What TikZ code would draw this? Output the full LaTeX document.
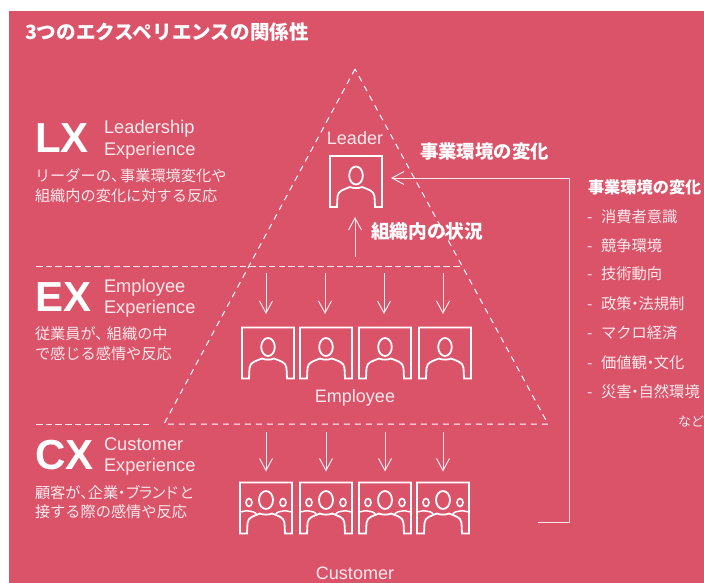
\documentclass[tikz,border=0pt]{standalone}
\usepackage{fontspec}
\setmainfont{Liberation Sans}
\newfontfamily\cjk{Noto Sans CJK JP}
\usetikzlibrary{arrows.meta}
\definecolor{bgred}{HTML}{DA5369}
\definecolor{softw}{HTML}{FBE9EC}
\newcommand{\fs}[1]{\fontsize{#1}{#1}\selectfont}
\newcommand{\nd}{\kern-.27em・\kern-.27em}
\newcommand{\cm}[1]{、\kern-#1em}
\tikzset{
  txt/.style={inner sep=0pt,outer sep=0pt,text=softw,anchor=base west},
  ctxt/.style={inner sep=0pt,outer sep=0pt,text=softw,anchor=base},
  big/.style={txt,text=white,font=\fs{42}\bfseries},
  sub/.style={txt,font=\fs{18.3}},
  desc/.style={txt,font=\cjk\fs{15.2}},
  lst/.style={txt,font=\cjk\fs{15.3}},
  hd/.style={txt,text=white,font=\cjk\bfseries\fs{18.4}},
  lvl/.style={ctxt,font=\fs{18}},
  dashline/.style={draw=softw,line width=1pt,dash pattern=on 6.5pt off 3.2pt},
  tridash/.style={draw=white,line width=1pt,dash pattern=on 6pt off 5pt},
  arr/.style={draw=softw,line width=1pt,-{Straight Barb[length=12pt,width=13pt]}},
  iconbox/.style={minimum width=52pt,minimum height=51pt,inner sep=0pt,outer sep=0pt},
  person/.pic={
    \draw[white,line width=1.8pt,line join=miter]
      (-26,-25.5) -- (26,-25.5) -- (26,25.5) -- (19,25.5) -- (18.5,15)
      .. controls (18,9) and (12,8) .. (6,5.5) .. controls (3,7) and (-3,7) .. (-6,5.5)
      .. controls (-12,8) and (-18,9) .. (-18.5,15) -- (-19,25.5) -- (-26,25.5) -- cycle;
    \draw[white,line width=1.8pt] (0,-6) ellipse [x radius=6.8, y radius=9];
  },
  crowd/.pic={
    \draw[white,line width=1.8pt,line join=miter]
      (-26,-25.5) -- (26,-25.5) -- (26,25.5) -- (19,25.5) -- (18.5,15)
      .. controls (18,9) and (12,8) .. (6,5.5) .. controls (3,7) and (-3,7) .. (-6,5.5)
      .. controls (-12,8) and (-18,9) .. (-18.5,15) -- (-19,25.5) -- (-26,25.5) -- cycle;
    \draw[white,line width=1.8pt] (0,-8) ellipse [x radius=7, y radius=9];
    \draw[white,line width=1.6pt] (-17,-5.5) ellipse [x radius=3, y radius=4];
    \draw[white,line width=1.6pt] (17,-5.5) ellipse [x radius=3, y radius=4];
    \draw[white,line width=1.5pt] (-26,4) .. controls (-22,3.5) and (-19,2) .. (-17,3) .. controls (-14,3) and (-11,4) .. (-9,7);
    \draw[white,line width=1.5pt] (26,4) .. controls (22,3.5) and (19,2) .. (17,3) .. controls (14,3) and (11,4) .. (9,7);
  }
}
\begin{document}
\begin{tikzpicture}[x=1pt,y=-1pt]
\useasboundingbox (0,0) rectangle (704,583);
\fill[white] (0,0) rectangle (704,583);
\fill[bgred] (9,11) rectangle (704,583);

% title
\node[txt,text=white,font=\cjk\bfseries\fs{19.6}] (title) at (25,40) {3つのエクスペリエンスの関係性};

% pyramid
\coordinate (apex) at (355,69);
\coordinate (bl) at (164,424);
\coordinate (br) at (548,424);
\draw[tridash] (apex) -- (bl) -- (br) -- cycle;
\coordinate (a) at (36,266);
\coordinate (b) at (460,266);
\coordinate (c) at (36,424);
\coordinate (c2) at (152,424);
\draw[dashline] (a) -- (b);
\draw[dashline] (c) -- (c2);

% LX
\node[big] (lx) at (35,153) {LX};
\node[sub] (lx1) at (104,134) {Leadership};
\node[sub] (lx2) at (104,155) {Experience};
\node[desc] (lxd1) at (35,182) {リーダーの\cm{.4}事業環境変化や};
\node[desc] (lxd2) at (35,201) {組織内の変化に対する反応};
% EX
\node[big] (ex) at (35,311) {EX};
\node[sub] (ex1) at (104,292) {Employee};
\node[sub] (ex2) at (104,313) {Experience};
\node[desc] (exd1) at (35,339) {従業員が\cm{.25}組織の中};
\node[desc] (exd2) at (35,359) {で感じる感情や反応};
% CX
\node[big] (cx) at (35,469) {CX};
\node[sub] (cx1) at (104,450) {Customer};
\node[sub] (cx2) at (104,471) {Experience};
\node[desc] (cxd1) at (35,498) {顧客が\cm{.5}企業\nd ブ\kern-.15em ラ\kern-.15em ン\kern-.15em ドと};
\node[desc] (cxd2) at (35,517) {接する際の感情や反応};

% level labels
\node[lvl] (leadertxt) at (355,145) {Leader};
\node[lvl] (emptxt) at (355,402) {Employee};
\node[lvl] (custxt) at (355,579) {Customer};

% icons
\node[iconbox] (L) at (356,181.5) {};
\pic at (L.center) {person};
\foreach \n/\x in {E1/268,E2/326,E3/385,E4/445}{
  \node[iconbox] (\n) at (\x,353) {};
  \pic at (\n.center) {person};
}
\foreach \n/\x in {C1/266,C2/326,C3/385,C4/443}{
  \node[iconbox] (\n) at (\x,508) {};
  \pic at (\n.center) {crowd};
}

% arrows
\foreach \n/\x in {E1/266,E2/325,E3/384,E4/443}{
  \coordinate (s\n) at (\x,273);
  \draw[arr,shorten >=13.5pt] (s\n) -- (s\n |- \n.north);
}
\foreach \n/\x in {C1/266,C2/326,C3/385,C4/443}{
  \coordinate (s\n) at (\x,432);
  \draw[arr,shorten >=11pt] (s\n) -- (s\n |- \n.north);
}
\coordinate (up) at (355,257);
\draw[arr,shorten >=10pt] (up) -- (up |- L.south);
\coordinate (envend) at (538,522);
\coordinate (envcorner) at (569,522);
\coordinate (envtop) at (569,178);
\draw[arr,shorten >=9pt] (envend) -- (envcorner) -- (envtop) -- (envtop -| L.east);

% bold labels
\node[hd,font=\cjk\bfseries\fs{18.7}] (inner) at (371,238) {組織内の状況};
\node[hd] (outer) at (420,159) {事業環境の変化};

% right list
\node[txt,text=white,font=\cjk\bfseries\fs{16.2}] (listhd) at (588,193) {事業環境の変化};
\foreach \n/\y/\t in {l1/222/消費者意識,l2/251/競争環境,l3/279/技術動向,l4/309/政策\nd 法規制,l5/338/マクロ経済,l6/368/価値観\nd 文化,l7/397/災害\nd 自然環境}{
  \node[lst] (\n) at (601,\y) {\t};
  \node[lst] (d\n) at (587,\y) {-};
}
\node[lst,font=\cjk\fs{13}] (etc) at (678,426) {など};
\end{tikzpicture}
\end{document}
